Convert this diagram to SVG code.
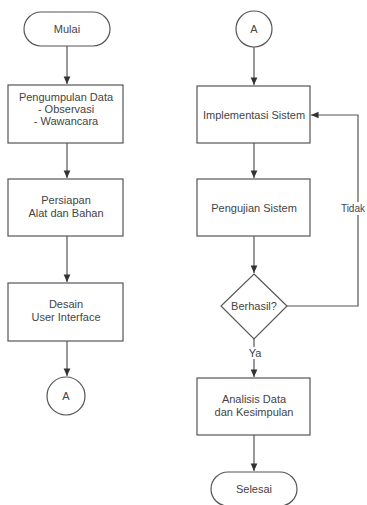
<svg xmlns="http://www.w3.org/2000/svg" width="367" height="505" viewBox="0 0 367 505">
<style>
.s{fill:#fff;stroke:#555;stroke-width:1.2}
.t{font-family:"Liberation Sans",Arial,sans-serif;font-size:11px;fill:#444;text-anchor:middle}
.c{fill:none;stroke:#555;stroke-width:1.2}
.lb{fill:#fff}
</style>
<defs>
<marker id="ah" viewBox="0 0 10 10" refX="9" refY="5" markerWidth="7" markerHeight="7" orient="auto">
<path d="M0,1 L9,5 L0,9 Z" fill="#333"/>
</marker>
</defs>
<rect width="367" height="505" fill="#fff"/>
<g id="connectors">
<line class="c" x1="67" y1="46" x2="67" y2="84" marker-end="url(#ah)"/>
<line class="c" x1="67" y1="143" x2="67" y2="178" marker-end="url(#ah)"/>
<line class="c" x1="67" y1="236" x2="67" y2="282" marker-end="url(#ah)"/>
<line class="c" x1="67" y1="341" x2="67" y2="376" marker-end="url(#ah)"/>
<line class="c" x1="254" y1="47" x2="254" y2="85" marker-end="url(#ah)"/>
<line class="c" x1="254" y1="143" x2="254" y2="178" marker-end="url(#ah)"/>
<line class="c" x1="254" y1="236" x2="254" y2="273" marker-end="url(#ah)"/>
<line class="c" x1="254" y1="339" x2="254" y2="377" marker-end="url(#ah)"/>
<line class="c" x1="254" y1="435" x2="254" y2="471" marker-end="url(#ah)"/>
<polyline class="c" points="287,306 358,306 358,115 311,115" marker-end="url(#ah)"/>
<rect class="lb" x="247" y="347" width="16" height="12"/>
<text class="t" x="255" y="357">Ya</text>
<rect class="lb" x="343" y="202" width="24" height="13"/>
<text class="t" x="365" y="212" style="text-anchor:end;font-size:10px">Tidak</text>
</g>
<g id="mulai">
<rect class="s" x="24" y="12" width="86" height="34" rx="17"/>
<text class="t" x="67" y="33">Mulai</text>
</g>
<g id="pengumpulan">
<rect class="s" x="8" y="85" width="115" height="58"/>
<text class="t" x="66" y="101">Pengumpulan Data</text>
<text class="t" x="66" y="113">- Observasi</text>
<text class="t" x="66" y="125">- Wawancara</text>
</g>
<g id="persiapan">
<rect class="s" x="8" y="179" width="115" height="57"/>
<text class="t" x="66" y="204">Persiapan</text>
<text class="t" x="66" y="217">Alat dan Bahan</text>
</g>
<g id="desain">
<rect class="s" x="8" y="283" width="115" height="58"/>
<text class="t" x="66" y="308">Desain</text>
<text class="t" x="66" y="321">User Interface</text>
</g>
<g id="a-left">
<circle class="s" cx="66" cy="396" r="19"/>
<text class="t" x="66" y="400">A</text>
</g>
<g id="a-right">
<circle class="s" cx="254" cy="29" r="18"/>
<text class="t" x="254" y="33">A</text>
</g>
<g id="implementasi">
<rect class="s" x="197" y="86" width="113" height="57"/>
<text class="t" x="254" y="119">Implementasi Sistem</text>
</g>
<g id="pengujian">
<rect class="s" x="197" y="179" width="113" height="57"/>
<text class="t" x="254" y="212">Pengujian Sistem</text>
</g>
<g id="berhasil">
<polygon class="s" points="254,274 287,306 254,339 221,306"/>
<text class="t" x="254" y="310">Berhasil?</text>
</g>
<g id="analisis">
<rect class="s" x="197" y="378" width="113" height="57"/>
<text class="t" x="254" y="403">Analisis Data</text>
<text class="t" x="254" y="416">dan Kesimpulan</text>
</g>
<g id="selesai">
<rect class="s" x="211" y="472" width="86" height="34" rx="17"/>
<text class="t" x="254" y="493">Selesai</text>
</g>
</svg>
